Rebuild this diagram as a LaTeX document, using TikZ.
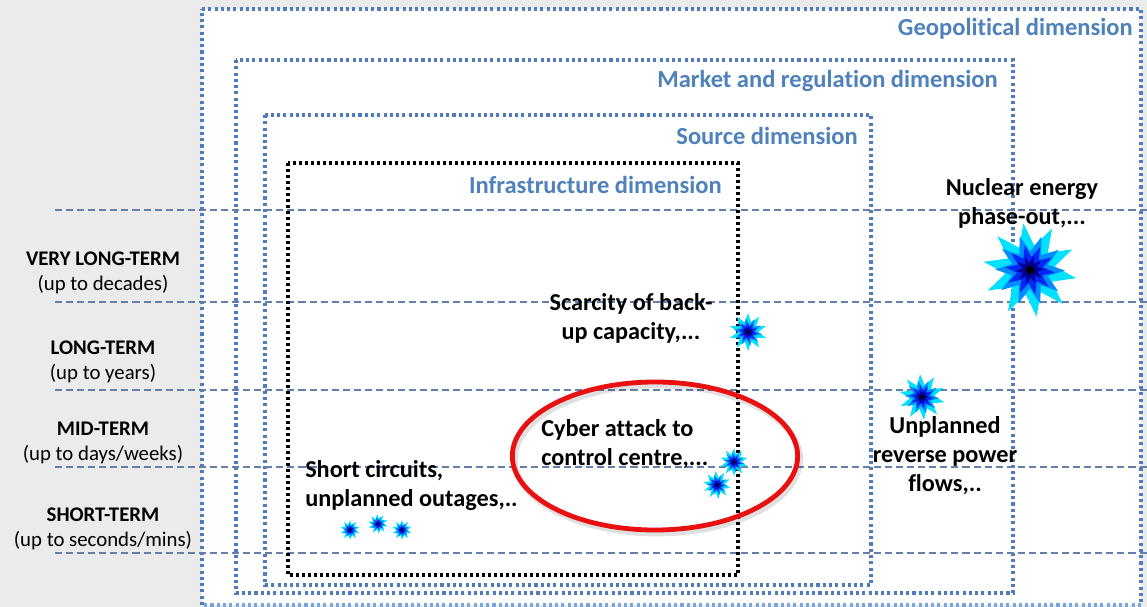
\documentclass[tikz,border=0pt]{standalone}
\usepackage{fontspec}
\setmainfont{Carlito}[Ligatures=NoCommon]
\usetikzlibrary{shapes.geometric}
\definecolor{dimblue}{RGB}{79,129,189}
\definecolor{boxblue}{RGB}{79,124,190}
\definecolor{lightboxblue}{RGB}{120,165,220}
\definecolor{dashblue}{RGB}{100,128,170}
\definecolor{bggray}{RGB}{235,235,235}
\definecolor{burstcyan}{RGB}{0,225,255}
\definecolor{burstmid}{RGB}{0,140,255}
\definecolor{burstblue}{RGB}{0,40,245}
\definecolor{burstdark}{RGB}{0,0,150}
\definecolor{ringred}{RGB}{232,16,16}
\tikzset{
  dotbox/.style={draw=boxblue, line width=2.3pt, dash pattern=on 2.3pt off 2.4pt},
  blackbox/.style={draw=black, line width=2.4pt, dash pattern=on 2.3pt off 2.2pt},
  timeline/.style={draw=dashblue, line width=1.2pt, dash pattern=on 5.3pt off 3pt},
  dimlabel/.style={text=dimblue, font=\bfseries\fontsize{18.4}{21}\selectfont, anchor=east, inner sep=0pt},
  termlabel/.style={align=center, font=\fontsize{15.6}{18.75}\selectfont, inner sep=0pt},
  risk/.style={align=#1, font=\bfseries\fontsize{18.2}{21.75}\selectfont, inner sep=0pt},
  burst/.style={star, star points=10, star point ratio=1.9, inner sep=0pt, draw=none},
}
\newcommand\boom[5]{%
  \node[burst, fill=burstcyan, minimum size=#4*1.5pt, rotate=#5] (#1) at (#2,#3) {};
  \node[burst, fill=burstmid, minimum size=#4*1.12pt, rotate=#5+9] (#1-b) at (#1) {};
  \node[burst, fill=burstblue, minimum size=#4*0.8pt, rotate=#5+4] (#1-c) at (#1) {};
  \node[burst, fill=burstdark, minimum size=#4*0.45pt, rotate=#5+14] (#1-d) at (#1) {};
  \node[circle, fill=black, inner sep=0pt, minimum size=#4*0.14pt] (#1-e) at (#1) {};
}
\begin{document}
\begin{tikzpicture}[x=0.75pt, y=-0.75pt]
\useasboundingbox (0,0) rectangle (1147,607);
\fill[bggray] (0,0) rectangle (1147,607);
\fill[white] (202,9) rectangle (1141,605);

% dimension boxes
\draw[dotbox] (202,9) -- (1141,9) -- (1141,605);
\draw[dotbox, draw=lightboxblue] (1141,605) -- (202,605);
\draw[dotbox] (202,605) -- (202,9);
\draw[dotbox] (236,60) rectangle (1013,593);
\draw[dotbox] (265,115) rectangle (871,585);

% time horizon lines
\foreach \yy in {210,302,390,467,553}
  \draw[timeline] (55,\yy) -- (1147,\yy);

\draw[blackbox] (288,163) rectangle (738,575);

% dimension labels
\node[dimlabel] (geo) at (1133,29) {Geopolitical dimension};
\node[dimlabel] (mkt) at (998,81) {Market and regulation dimension};
\node[dimlabel] (src) at (858,136) {Source dimension};
\node[dimlabel] (inf) at (722,185) {Infrastructure dimension};

% time labels
\node[termlabel] (vlt) at (103,273) {\textbf{VERY LONG-TERM}\\(up to decades)};
\node[termlabel] (lt) at (103,362) {\textbf{LONG-TERM}\\(up to years)};
\node[termlabel] (mt) at (103,443) {\textbf{MID-TERM}\\(up to days/weeks)};
\node[termlabel] (st) at (103,529) {\textbf{SHORT-TERM}\\(up to seconds/mins)};

% risk texts
\node[risk=center] (nuc) at (1022,203) {Nuclear energy\\phase-out,...};
\node[risk=center] (scar) at (631,318) {Scarcity of back-\\up capacity,...};
\node[risk=left, anchor=west] (cyb) at (541,444) {Cyber attack to\\control centre,...};
\node[risk=left, anchor=west] (shc) at (305,486) {Short circuits,\\unplanned outages,..};
\node[risk=center] (rev) at (945,456) {Unplanned\\reverse power\\flows,..};

% bursts
\boom{b1}{1030}{270}{47}{8}
\boom{b2}{748}{332}{19}{0}
\boom{b3}{922}{397}{23}{5}
\boom{b4}{734}{462}{14}{0}
\boom{b5}{717}{485}{14}{6}
\boom{b6}{350}{530}{10}{0}
\boom{b7}{378}{524}{10}{5}
\boom{b8}{402}{530}{10}{0}

% highlight ring
\node[ellipse, draw=black, draw opacity=0.12, line width=5pt, minimum width=214pt, minimum height=111pt, inner sep=0pt] (shadow) at (657,459) {};
\node[ellipse, draw=ringred, line width=3.6pt, minimum width=214pt, minimum height=111pt, inner sep=0pt] (ring) at (655,456) {};
\end{tikzpicture}
\end{document}
